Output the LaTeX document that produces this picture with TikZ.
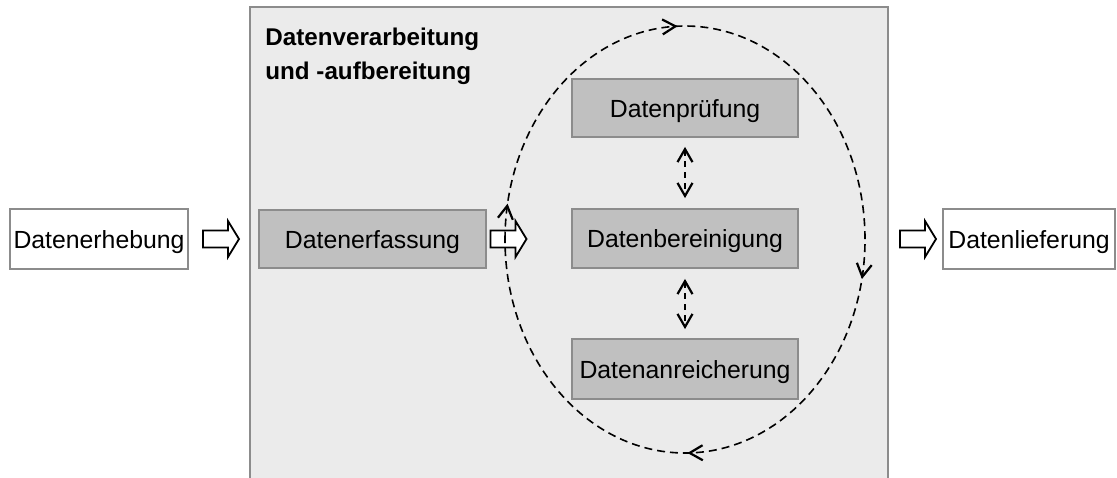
\documentclass[tikz,border=0pt]{standalone}
\usepackage{fontspec}
\setmainfont{Liberation Sans}
\usetikzlibrary{arrows.meta,decorations.markings}
\definecolor{panelgray}{HTML}{EBEBEB}
\definecolor{boxgray}{HTML}{C0C0C0}
\definecolor{edgegray}{HTML}{8C8C8C}
\tikzset{
  blockarrow/.pic={\path[blockline] (-18,-8.5) -- (7,-8.5) -- (7,-18) -- (18,0) -- (7,18) -- (7,8.5) -- (-18,8.5) -- cycle;},
}
\begin{document}
\begin{tikzpicture}[x=0.5pt,y=-0.5pt,
  >={Straight Barb[length=6.5pt,width=7.5pt,line width=1.1pt]},
  txt/.style={font=\fontsize{12.4}{14}\selectfont, text height=9.4pt, text depth=0pt},
  whitebox/.style={txt, draw=edgegray, line width=0.9pt, fill=white, inner sep=0pt},
  graybox/.style={txt, draw=edgegray, line width=0.9pt, fill=boxgray, inner sep=0pt},
  dashcycle/.style={draw=black, line width=0.8pt, dash pattern=on 4pt off 2.5pt},
  dbl/.style={<->, line width=0.8pt, dash pattern=on 3pt off 2.5pt},
  blockline/.style={draw=black, line width=0.9pt, fill=white, line join=miter},
  titletext/.style={anchor=north west, align=left, inner sep=0pt, font=\bfseries\fontsize{12.1}{17}\selectfont}
]
\useasboundingbox (0,0) rectangle (1117,477);
% panel
\fill[panelgray] (250,7) rectangle (888,490);
\draw[edgegray, line width=1pt] (250,490) -- (250,7) -- (888,7) -- (888,490);
\node[titletext] (title) at (265,28) {Datenverarbeitung\\und -aufbereitung};

% outer boxes
\node[whitebox, minimum width=89pt, minimum height=30pt] (erheb) at (99,239) {Datenerhebung};
\node[whitebox, minimum width=86pt, minimum height=30pt] (liefer) at (1029,239) {Datenlieferung};

% inner boxes
\node[graybox, minimum width=113.5pt, minimum height=29pt] (erfass) at (372.5,239) {Datenerfassung};
\node[graybox, minimum width=113pt, minimum height=29pt] (pruef) at (685,108) {Datenprüfung};
\node[graybox, minimum width=113pt, minimum height=29.5pt] (berein) at (685,238.5) {Datenbereinigung};
\node[graybox, minimum width=113pt, minimum height=30pt] (anreich) at (685,369) {Datenanreicherung};

% block arrows
\pic (a1) at (221,239) {blockarrow};
\pic (a2) at (508.5,239) {blockarrow};
\pic (a3) at (918,239) {blockarrow};

% cycle
\draw[dashcycle, postaction={decorate}, decoration={markings,
    mark=at position 0.029 with {\arrow{>}},
    mark=at position 0.244 with {\arrow{>}},
    mark=at position 0.532 with {\arrow{>}},
    mark=at position 0.748 with {\arrow{>}}}]
  (505,239.5) arc[start angle=180, end angle=-180, x radius=90pt, y radius=106.75pt];

% double arrows
\draw[dbl, shorten <=4.5pt, shorten >=5pt] (pruef.south) -- (berein.north);
\draw[dbl, shorten <=5pt, shorten >=4.5pt] (berein.south) -- (anreich.north);
\end{tikzpicture}
\end{document}
